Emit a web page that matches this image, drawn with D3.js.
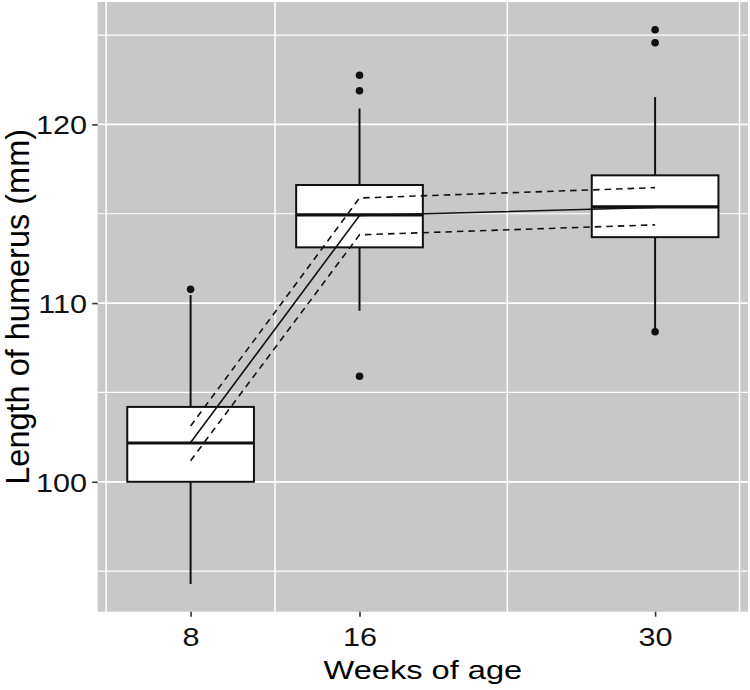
<!DOCTYPE html>
<html>
<head>
<meta charset="utf-8">
<script src="https://cdn.jsdelivr.net/npm/d3@7"></script>
<style>
  html, body { margin: 0; padding: 0; background: #fff; }
  svg { display: block; font-family: "Liberation Sans", Arial, Helvetica, sans-serif; }
</style>
</head>
<body>
<svg id="chart" width="750" height="690"></svg>
<script>
// boxplot summaries per age group
const weeks = [8, 16, 30];
const q1 = [100.0, 113.12, 113.69];
const medians = [102.17, 114.94, 115.38];
const q3 = [104.19, 116.61, 117.15];
const whiskerLow = [94.28, 109.57, 108.5];
const whiskerHigh = [110.45, 120.89, 121.53];
const outliers = [[110.77], [105.91, 121.88, 122.75], [108.4, 124.57, 125.3]];

// fitted line with confidence band
const fitMean = [102.2, 114.9, 115.35];
const fitUpper = [103.12, 115.88, 116.46];
const fitLower = [101.18, 113.82, 114.38];

const yTicks = [100, 110, 120];
const yMinor = [95, 105, 115, 125];
const xMinor = [4, 12, 23, 34];

const boxWidth = 6; // in weeks

const svg = d3.select("#chart");
const panelLeft = 97.7, panelRight = 748, panelTop = 2, panelBottom = 611.7;

const x = d3.scaleLinear().domain([3.6, 34.4]).range([panelLeft, panelRight]);
const y = d3.scaleLinear().domain([92.73, 126.85]).range([panelBottom, panelTop]);

// panel
svg.append("rect")
    .attr("x", panelLeft).attr("y", panelTop)
    .attr("width", panelRight - panelLeft).attr("height", panelBottom - panelTop)
    .attr("fill", "#c8c8c8");

const grid = svg.append("g");
grid.selectAll("line.minor-y")
    .data(yMinor)
    .join("line")
    .attr("x1", panelLeft).attr("x2", panelRight)
    .attr("y1", (d) => y(d)).attr("y2", (d) => y(d))
    .attr("stroke", "#fff").attr("stroke-width", 1.2);
grid.selectAll("line.major-y")
    .data(yTicks)
    .join("line")
    .attr("x1", panelLeft).attr("x2", panelRight)
    .attr("y1", (d) => y(d)).attr("y2", (d) => y(d))
    .attr("stroke", "#fff").attr("stroke-width", 1.8);
grid.selectAll("line.minor-x")
    .data(xMinor)
    .join("line")
    .attr("y1", panelTop).attr("y2", panelBottom)
    .attr("x1", (d) => x(d)).attr("x2", (d) => x(d))
    .attr("stroke", "#fff").attr("stroke-width", 1.5);

// boxes
const boxes = weeks.map((w, i) => ({
    w: w, q1: q1[i], med: medians[i], q3: q3[i],
    lo: whiskerLow[i], hi: whiskerHigh[i], out: outliers[i]
}));

const boxG = svg.append("g")
    .selectAll("g.box")
    .data(boxes)
    .join("g")
    .attr("class", "box");

boxG.append("line")
    .attr("x1", (d) => x(d.w)).attr("x2", (d) => x(d.w))
    .attr("y1", (d) => y(d.q3)).attr("y2", (d) => y(d.hi))
    .attr("stroke", "#111").attr("stroke-width", 2);
boxG.append("line")
    .attr("x1", (d) => x(d.w)).attr("x2", (d) => x(d.w))
    .attr("y1", (d) => y(d.q1)).attr("y2", (d) => y(d.lo))
    .attr("stroke", "#111").attr("stroke-width", 2);
boxG.append("rect")
    .attr("x", (d) => x(d.w - boxWidth / 2))
    .attr("width", (d) => x(d.w + boxWidth / 2) - x(d.w - boxWidth / 2))
    .attr("y", (d) => y(d.q3))
    .attr("height", (d) => y(d.q1) - y(d.q3))
    .attr("fill", "#fff").attr("stroke", "#111").attr("stroke-width", 2);
boxG.append("line")
    .attr("x1", (d) => x(d.w - boxWidth / 2)).attr("x2", (d) => x(d.w + boxWidth / 2))
    .attr("y1", (d) => y(d.med)).attr("y2", (d) => y(d.med))
    .attr("stroke", "#111").attr("stroke-width", 3.2);
boxG.selectAll("circle")
    .data((d) => d.out.map((v) => ({ w: d.w, v: v })))
    .join("circle")
    .attr("cx", (d) => x(d.w)).attr("cy", (d) => y(d.v))
    .attr("r", 3.8).attr("fill", "#111");

// fitted lines
const line = d3.line().x((d) => x(d[0])).y((d) => y(d[1]));
const fits = [
    { vals: fitUpper, dash: "6.5,5" },
    { vals: fitLower, dash: "6.5,5" },
    { vals: fitMean, dash: null }
];
svg.append("g")
    .selectAll("path")
    .data(fits)
    .join("path")
    .attr("d", (d) => line(weeks.map((w, i) => [w, d.vals[i]])))
    .attr("fill", "none")
    .attr("stroke", "#111")
    .attr("stroke-width", 1.6)
    .attr("stroke-dasharray", (d) => d.dash);

// axes
const yAxis = svg.append("g")
    .attr("transform", `translate(${panelLeft},0)`)
    .call(d3.axisLeft(y).tickValues(yTicks).tickSize(5.5).tickFormat(d3.format("d")));
const xAxis = svg.append("g")
    .attr("transform", `translate(0,${panelBottom})`)
    .call(d3.axisBottom(x).tickValues(weeks).tickSize(5).tickFormat(d3.format("d")));

[yAxis, xAxis].forEach((g) => {
    g.attr("font-family", null).attr("font-size", null);
    g.select(".domain").remove();
    g.selectAll(".tick line").attr("stroke", "#333").attr("stroke-width", 1.6);
    g.selectAll(".tick text")
        .attr("fill", "#111")
        .attr("font-size", 25.5)
        .attr("x", null).attr("y", null).attr("dy", null);
});
yAxis.selectAll(".tick text")
    .attr("text-anchor", "end")
    .attr("transform", "translate(-10.7,9.3) scale(1.2,1)");
xAxis.selectAll(".tick text")
    .attr("text-anchor", "middle")
    .attr("transform", "translate(0,34) scale(1.2,1)");

// titles
svg.append("text")
    .attr("text-anchor", "middle")
    .attr("font-size", 26.5)
    .attr("fill", "#000")
    .attr("transform", `translate(${(panelLeft + panelRight) / 2},679) scale(1.23,1)`)
    .text("Weeks of age");

svg.append("text")
    .attr("text-anchor", "middle")
    .attr("font-size", 32.5)
    .attr("fill", "#000")
    .attr("transform", `translate(29,${(panelTop + panelBottom) / 2}) rotate(-90)`)
    .text("Length of humerus (mm)");
</script>
</body>
</html>
